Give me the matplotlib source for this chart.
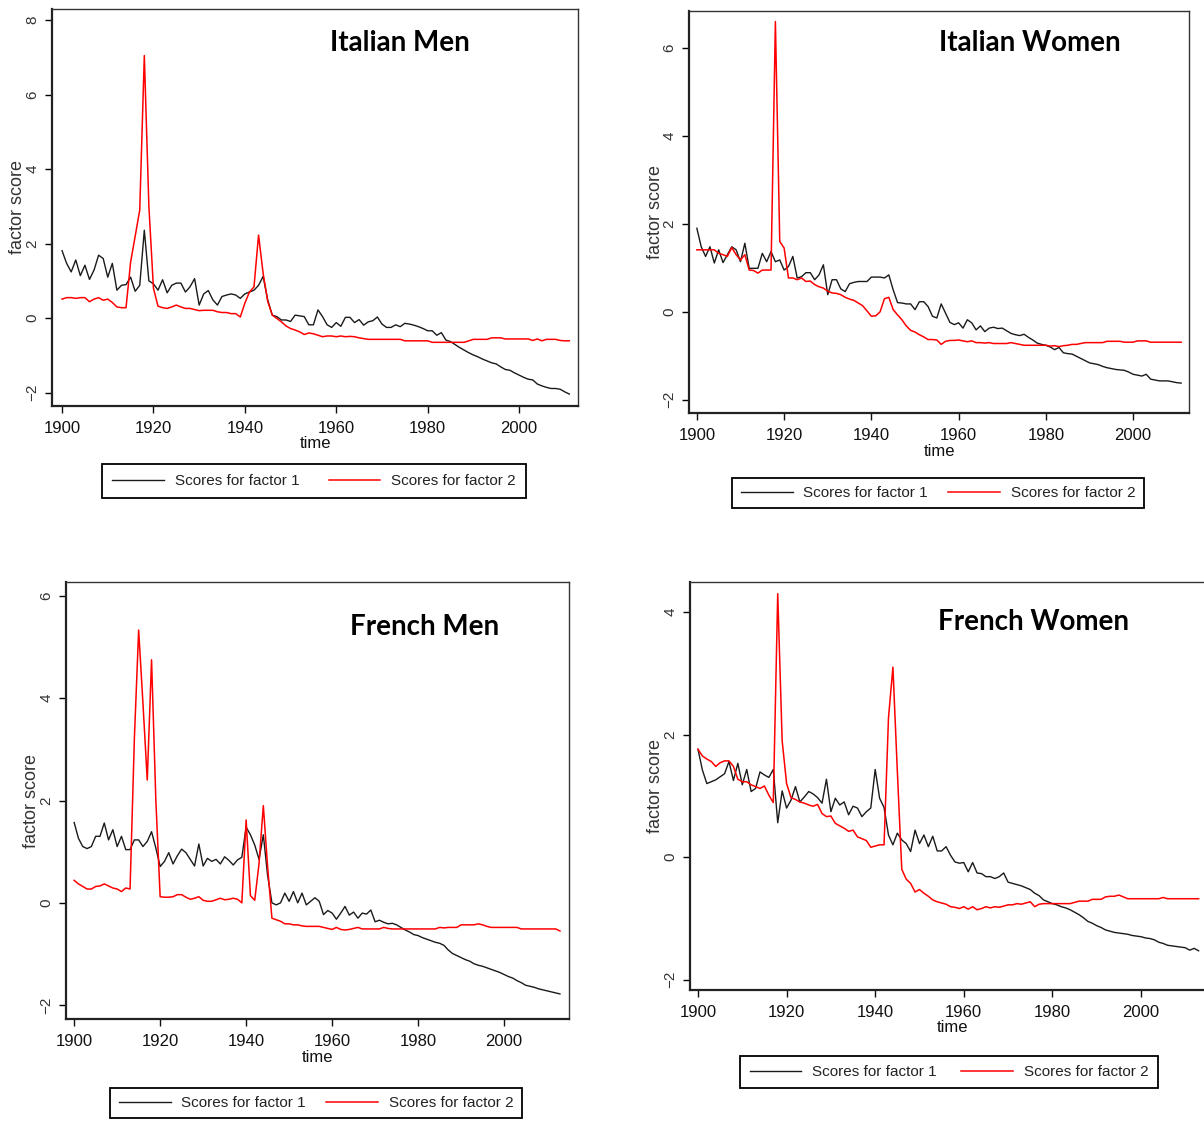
import numpy as np
import matplotlib
matplotlib.use('Agg')
import matplotlib.pyplot as plt
from matplotlib import font_manager

# factor scores (yearly)
it_men_f1 = [1.81, 1.47, 1.24, 1.56, 1.14, 1.42, 1.04, 1.29, 1.69, 1.60,
             1.10, 1.47, 0.75, 0.88, 0.90, 1.10, 0.72, 0.88, 2.36, 1.00,
             0.92, 0.75, 1.03, 0.68, 0.88, 0.94, 0.94, 0.70, 0.84, 1.06,
             0.35, 0.65, 0.74, 0.49, 0.35, 0.58, 0.62, 0.65, 0.62, 0.53,
             0.65, 0.70, 0.75, 0.88, 1.12, 0.49, 0.08, 0.04, -0.05, -0.05,
             -0.09, 0.08, 0.06, 0.04, -0.18, -0.18, 0.22, 0.04, -0.18, -0.25,
             -0.12, -0.22, 0.02, 0.02, -0.12, -0.04, -0.19, -0.10, -0.07, 0.03,
             -0.16, -0.25, -0.25, -0.18, -0.23, -0.14, -0.16, -0.19, -0.23, -0.28,
             -0.34, -0.34, -0.46, -0.39, -0.59, -0.63, -0.71, -0.79, -0.86, -0.93,
             -0.99, -1.04, -1.10, -1.15, -1.20, -1.23, -1.31, -1.38, -1.40, -1.47,
             -1.53, -1.59, -1.64, -1.66, -1.77, -1.82, -1.86, -1.89, -1.89, -1.91,
             -1.98, -2.04]
it_men_f2 = [0.51, 0.55, 0.55, 0.53, 0.55, 0.55, 0.44, 0.51, 0.55, 0.48,
             0.51, 0.42, 0.30, 0.28, 0.28, 1.50, 2.20, 2.90, 7.05, 3.00,
             0.80, 0.32, 0.28, 0.26, 0.30, 0.35, 0.30, 0.26, 0.26, 0.23,
             0.20, 0.21, 0.21, 0.21, 0.17, 0.15, 0.15, 0.12, 0.12, 0.03,
             0.40, 0.70, 0.84, 2.23, 1.20, 0.45, 0.08, -0.01, -0.10, -0.21,
             -0.28, -0.32, -0.37, -0.44, -0.40, -0.42, -0.46, -0.50, -0.48, -0.48,
             -0.50, -0.48, -0.50, -0.49, -0.50, -0.53, -0.55, -0.57, -0.57, -0.57,
             -0.57, -0.57, -0.57, -0.57, -0.57, -0.61, -0.61, -0.61, -0.61, -0.61,
             -0.61, -0.65, -0.65, -0.65, -0.65, -0.65, -0.65, -0.65, -0.65, -0.61,
             -0.57, -0.57, -0.57, -0.57, -0.53, -0.53, -0.53, -0.56, -0.56, -0.56,
             -0.56, -0.56, -0.56, -0.60, -0.56, -0.61, -0.57, -0.57, -0.57, -0.60,
             -0.61, -0.61]

it_wom_f1 = [1.90, 1.48, 1.26, 1.48, 1.11, 1.41, 1.12, 1.30, 1.48, 1.41,
             1.14, 1.56, 0.99, 0.99, 0.99, 1.33, 1.14, 1.37, 1.14, 1.18,
             0.95, 1.03, 1.26, 0.77, 0.80, 0.89, 0.89, 0.73, 0.84, 1.07,
             0.39, 0.73, 0.73, 0.52, 0.46, 0.64, 0.67, 0.69, 0.69, 0.69,
             0.79, 0.79, 0.79, 0.77, 0.84, 0.50, 0.21, 0.20, 0.18, 0.18,
             0.05, 0.23, 0.23, 0.12, -0.10, -0.14, 0.18, -0.03, -0.24, -0.29,
             -0.25, -0.37, -0.18, -0.25, -0.41, -0.32, -0.45, -0.37, -0.35, -0.38,
             -0.37, -0.43, -0.49, -0.52, -0.54, -0.51, -0.58, -0.64, -0.71, -0.74,
             -0.76, -0.80, -0.86, -0.81, -0.93, -0.95, -0.96, -1.01, -1.06, -1.11,
             -1.16, -1.18, -1.20, -1.24, -1.27, -1.29, -1.31, -1.32, -1.33, -1.37,
             -1.42, -1.44, -1.46, -1.42, -1.53, -1.55, -1.57, -1.57, -1.57, -1.59,
             -1.61, -1.62]
it_wom_f2 = [1.41, 1.41, 1.41, 1.41, 1.41, 1.33, 1.30, 1.26, 1.46, 1.30,
             1.18, 1.30, 0.95, 0.94, 0.88, 0.95, 0.95, 0.95, 6.60, 1.60,
             1.45, 0.77, 0.77, 0.73, 0.77, 0.69, 0.70, 0.62, 0.57, 0.54,
             0.47, 0.43, 0.42, 0.39, 0.33, 0.29, 0.26, 0.20, 0.14, 0.02,
             -0.10, -0.09, 0.00, 0.30, 0.33, 0.05, -0.07, -0.18, -0.32, -0.42,
             -0.46, -0.52, -0.57, -0.63, -0.63, -0.64, -0.74, -0.67, -0.65, -0.65,
             -0.64, -0.66, -0.68, -0.66, -0.70, -0.70, -0.71, -0.70, -0.72, -0.72,
             -0.72, -0.72, -0.70, -0.72, -0.74, -0.76, -0.76, -0.76, -0.76, -0.76,
             -0.76, -0.78, -0.77, -0.79, -0.77, -0.76, -0.74, -0.74, -0.72, -0.70,
             -0.70, -0.70, -0.70, -0.70, -0.67, -0.67, -0.67, -0.67, -0.69, -0.69,
             -0.69, -0.66, -0.66, -0.66, -0.69, -0.69, -0.69, -0.69, -0.69, -0.69,
             -0.69, -0.69]

fr_men_f1 = [1.57, 1.26, 1.10, 1.06, 1.10, 1.30, 1.30, 1.56, 1.23, 1.43,
             1.10, 1.30, 1.04, 1.04, 1.23, 1.23, 1.10, 1.20, 1.39, 1.07,
             0.71, 0.81, 0.98, 0.76, 0.92, 1.05, 0.98, 0.85, 0.72, 1.15,
             0.72, 0.87, 0.81, 0.85, 0.76, 0.90, 0.83, 0.74, 0.84, 0.89,
             1.48, 1.33, 1.13, 0.85, 1.33, 0.53, 0.00, -0.04, 0.00, 0.19,
             0.03, 0.22, 0.00, 0.19, -0.04, 0.03, 0.10, 0.03, -0.23, -0.15,
             -0.20, -0.32, -0.20, -0.07, -0.24, -0.18, -0.30, -0.20, -0.22, -0.14,
             -0.37, -0.34, -0.38, -0.41, -0.40, -0.43, -0.48, -0.53, -0.57, -0.62,
             -0.64, -0.68, -0.71, -0.74, -0.77, -0.79, -0.83, -0.92, -0.99, -1.03,
             -1.07, -1.11, -1.14, -1.19, -1.22, -1.24, -1.27, -1.30, -1.33, -1.36,
             -1.40, -1.44, -1.47, -1.52, -1.56, -1.61, -1.63, -1.65, -1.68, -1.70,
             -1.72, -1.74, -1.76, -1.78]
fr_men_f2 = [0.44, 0.37, 0.32, 0.27, 0.27, 0.32, 0.33, 0.37, 0.33, 0.29,
             0.27, 0.22, 0.29, 0.27, 3.20, 5.33, 3.90, 2.40, 4.75, 2.00,
             0.12, 0.11, 0.11, 0.12, 0.16, 0.16, 0.11, 0.07, 0.09, 0.12,
             0.05, 0.03, 0.03, 0.06, 0.09, 0.06, 0.07, 0.09, 0.07, 0.00,
             1.62, 0.14, 0.05, 0.77, 1.90, 0.70, -0.30, -0.33, -0.36, -0.41,
             -0.41, -0.43, -0.43, -0.45, -0.46, -0.46, -0.46, -0.46, -0.48, -0.50,
             -0.52, -0.48, -0.52, -0.53, -0.52, -0.50, -0.48, -0.51, -0.51, -0.51,
             -0.51, -0.51, -0.48, -0.50, -0.51, -0.51, -0.51, -0.51, -0.51, -0.51,
             -0.51, -0.51, -0.51, -0.51, -0.51, -0.48, -0.49, -0.48, -0.48, -0.48,
             -0.43, -0.43, -0.43, -0.43, -0.41, -0.43, -0.46, -0.48, -0.48, -0.48,
             -0.48, -0.48, -0.48, -0.48, -0.51, -0.51, -0.51, -0.51, -0.51, -0.51,
             -0.51, -0.51, -0.51, -0.55]

fr_wom_f1 = [1.76, 1.42, 1.20, 1.23, 1.26, 1.31, 1.36, 1.56, 1.25, 1.53,
             1.18, 1.43, 1.07, 1.12, 1.39, 1.34, 1.30, 1.43, 0.56, 1.08,
             0.80, 0.93, 1.15, 0.90, 0.98, 1.07, 1.03, 0.97, 0.88, 1.27,
             0.74, 0.96, 0.85, 0.90, 0.69, 0.83, 0.80, 0.66, 0.74, 0.80,
             1.43, 0.96, 0.81, 0.36, 0.20, 0.39, 0.28, 0.22, 0.09, 0.44,
             0.22, 0.36, 0.17, 0.34, 0.10, 0.10, 0.17, 0.03, -0.08, -0.10,
             -0.09, -0.24, -0.09, -0.26, -0.27, -0.32, -0.32, -0.35, -0.32, -0.26,
             -0.41, -0.43, -0.45, -0.47, -0.50, -0.53, -0.59, -0.63, -0.70, -0.73,
             -0.76, -0.78, -0.81, -0.83, -0.86, -0.90, -0.94, -0.99, -1.05, -1.08,
             -1.12, -1.15, -1.19, -1.21, -1.23, -1.24, -1.25, -1.26, -1.28, -1.29,
             -1.30, -1.32, -1.33, -1.35, -1.39, -1.41, -1.44, -1.45, -1.46, -1.47,
             -1.48, -1.52, -1.49, -1.53]
fr_wom_f2 = [1.76, 1.65, 1.60, 1.56, 1.48, 1.54, 1.57, 1.57, 1.48, 1.27,
             1.23, 1.23, 1.18, 1.15, 1.12, 1.16, 1.01, 0.89, 4.30, 1.90,
             1.20, 0.97, 0.94, 0.90, 0.88, 0.85, 0.83, 0.86, 0.71, 0.66,
             0.67, 0.55, 0.51, 0.47, 0.42, 0.44, 0.33, 0.30, 0.27, 0.16,
             0.18, 0.20, 0.20, 2.27, 3.10, 1.40, -0.20, -0.36, -0.43, -0.57,
             -0.53, -0.59, -0.64, -0.70, -0.73, -0.75, -0.77, -0.81, -0.82, -0.84,
             -0.81, -0.85, -0.81, -0.86, -0.84, -0.81, -0.83, -0.81, -0.82, -0.80,
             -0.78, -0.78, -0.76, -0.77, -0.75, -0.73, -0.81, -0.77, -0.76, -0.76,
             -0.76, -0.76, -0.76, -0.76, -0.76, -0.74, -0.72, -0.72, -0.72, -0.69,
             -0.69, -0.69, -0.65, -0.64, -0.64, -0.62, -0.65, -0.68, -0.68, -0.68,
             -0.68, -0.68, -0.68, -0.68, -0.68, -0.66, -0.68, -0.68, -0.68, -0.68,
             -0.68, -0.68, -0.68, -0.68]

titles = ['Italian Men', 'Italian Women', 'French Men', 'French Women']
series = [(it_men_f1, it_men_f2), (it_wom_f1, it_wom_f2),
          (fr_men_f1, fr_men_f2), (fr_wom_f1, fr_wom_f2)]
xticks = [1900, 1920, 1940, 1960, 1980, 2000]
yticks = [[-2, 0, 2, 4, 6, 8], [-2, 0, 2, 4, 6], [-2, 0, 2, 4, 6], [-2, 0, 2, 4]]
legend_labels = ['Scores for factor 1', 'Scores for factor 2']

# layout in pixels (figure is 1204 x 1122)
W, H = 1204, 1122
boxes = [(52, 9, 578, 406), (689, 11, 1189, 413),
         (66, 582, 569, 1019), (690, 582, 1215, 990)]
xlims = [(1897.8, 2012.9), (1898.2, 2012.8), (1898.1, 2015.1), (1898.2, 2016.7)]
ylims = [(-2.36, 8.3), (-2.3, 6.84), (-2.27, 6.27), (-2.17, 4.49)]
title_pos = [(400, 43), (1030, 43), (425, 627), (1033, 622)]
legend_pos = [(314, 481), (938, 493), (316, 1103), (949, 1072)]
legend_gap = [1.9, 1.3, 1.3, 1.6]
legend_pad = [0.65, 0.55, 0.55, 0.6]

names = {f.name for f in font_manager.fontManager.ttflist}
narrow = 'Liberation Sans Narrow' if 'Liberation Sans Narrow' in names else 'Liberation Sans'
plt.rcParams['font.family'] = [narrow, 'DejaVu Sans']
tick_fs = 14 if narrow.endswith('Narrow') else 12
leg_fs = 13.5 if narrow.endswith('Narrow') else 11

fig = plt.figure(figsize=(W / 100, H / 100), dpi=100)

for i in range(4):
    l, t, r, b = boxes[i]
    ax = fig.add_axes([l / W, 1 - b / H, (r - l) / W, (b - t) / H])
    f1, f2 = series[i]
    years = np.arange(1900, 1900 + len(f1))
    h1, = ax.plot(years, f1, color='#1a1a1a', lw=1.0)
    h2, = ax.plot(years, f2, color='#ff0000', lw=1.1)
    ax.set_xlim(*xlims[i])
    ax.set_ylim(*ylims[i])
    ax.set_xticks(xticks)
    ax.set_yticks(yticks[i])
    ax.tick_params(axis='x', direction='out', length=5, width=1, pad=6,
                   labelsize=tick_fs, colors='#111111')
    ax.tick_params(axis='y', direction='out', length=5, width=1, pad=4,
                   labelsize=11, labelcolor='#333333', labelrotation=90)
    for lbl in ax.get_yticklabels():
        lbl.set_va('center')
    for side in ['top', 'right']:
        ax.spines[side].set_linewidth(1.0)
        ax.spines[side].set_color('#333333')
    for side in ['left', 'bottom']:
        ax.spines[side].set_linewidth(1.6)
        ax.spines[side].set_color('#222222')

    ax.set_xlabel('time', fontsize=tick_fs, color='#111111')
    ax.xaxis.set_label_coords(0.5, -38 / (b - t))
    ax.xaxis.label.set_va('center')
    ax.set_ylabel('factor score', fontsize=13, color='#333333',
                  family=['Liberation Sans', 'DejaVu Sans'])
    ax.yaxis.set_label_coords(-34 / (r - l), 0.5)
    ax.yaxis.label.set_va('center')

    fig.text(title_pos[i][0] / W, 1 - title_pos[i][1] / H, titles[i],
             ha='center', va='center', fontsize=20, fontweight='bold',
             family=['Lato', 'DejaVu Sans'])

    cx, cy = legend_pos[i]
    leg = ax.legend([h1, h2], legend_labels, loc='center', ncol=2,
                    bbox_to_anchor=(cx / W, 1 - cy / H), bbox_transform=fig.transFigure,
                    frameon=True, fancybox=False, framealpha=1, edgecolor='black',
                    fontsize=leg_fs, handlelength=3.4, handletextpad=0.7,
                    columnspacing=legend_gap[i], borderpad=legend_pad[i])
    leg.get_frame().set_linewidth(1.3)
    for txt in leg.get_texts():
        txt.set_color('#222222')

fig.savefig('out.png', dpi=100)
